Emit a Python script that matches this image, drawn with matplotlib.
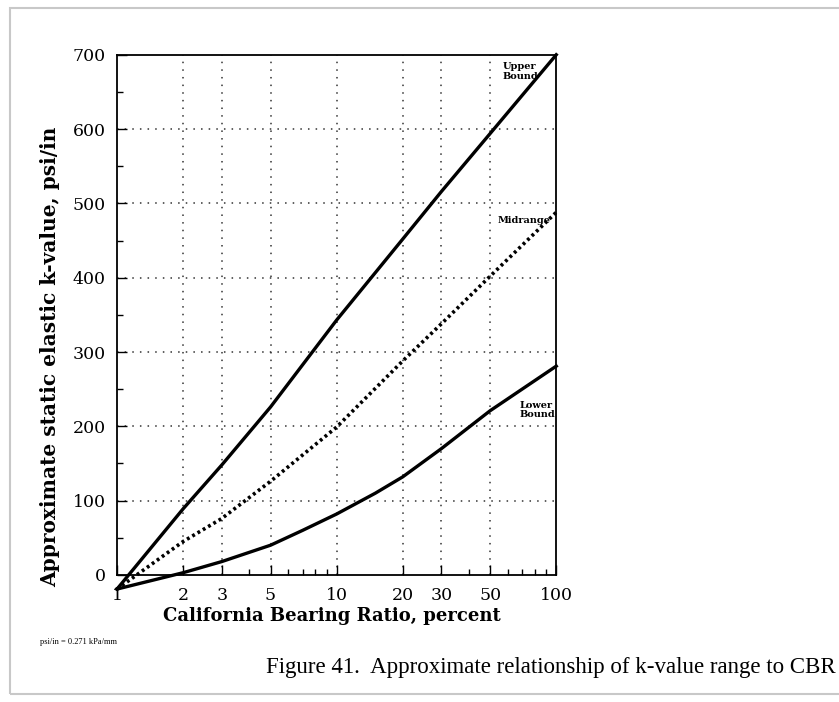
import numpy as np
from matplotlib import pyplot as plt
from matplotlib.patches import Rectangle

# CBR (percent) and k-value (psi/in)
cbr_upper = [1, 2, 3, 5, 10, 20, 30, 50, 100]
k_upper = [-19, 89, 148, 226, 343, 452, 516, 594, 700]

cbr_mid = [1, 2, 3, 5, 10, 20, 30, 50, 100]
k_mid = [-19, 45, 76, 126, 199, 288, 338, 402, 488]

cbr_lower = [1, 2, 3, 5, 7, 10, 15, 20, 30, 50, 100]
k_lower = [-19, 3, 18, 40, 60, 82, 110, 132, 170, 221, 281]

x_ticks = [1, 2, 3, 5, 10, 20, 30, 50, 100]
x_grid = [2, 3, 5, 10, 20, 30, 50]
y_ticks = [0, 100, 200, 300, 400, 500, 600, 700]
y_grid = [100, 200, 300, 400, 500, 600]

serif = 'DejaVu Serif'

fig = plt.figure(figsize=(8.39, 7.02), dpi=100)
fig.patches.append(Rectangle((0.012, 0.012), 1.2, 0.976, transform=fig.transFigure,
                             fill=False, edgecolor='#c8c8c8', linewidth=1.5))

ax = fig.add_axes([0.1395, 0.181, 0.5235, 0.741])
ax.set_xscale('log')
ax.set_xlim(1, 100)
ax.set_ylim(0, 700)

for gx in x_grid:
    ax.axvline(gx, color='#333333', lw=1.1, ls=(0, (1, 4)), zorder=1)
for gy in y_grid:
    ax.axhline(gy, color='#333333', lw=1.1, ls=(0, (1, 4)), zorder=1)

ax.plot(cbr_upper, k_upper, color='black', lw=2.4, clip_on=False, zorder=3)
ax.plot(cbr_mid, k_mid, color='black', lw=2.6, ls=(0, (0.8, 0.9)), clip_on=False, zorder=3)
ax.plot(cbr_lower, k_lower, color='black', lw=2.4, clip_on=False, zorder=3)

ax.text(57, 690, 'Upper\nBound', fontsize=7, fontweight='bold', family=serif,
        va='top', ha='left', linespacing=1.1)
ax.text(54, 477, 'Midrange', fontsize=7, fontweight='bold', family=serif,
        va='center', ha='left')
ax.text(68, 222, 'Lower\nBound', fontsize=7, fontweight='bold', family=serif,
        va='center', ha='left', linespacing=1.1)

ax.set_xticks(x_ticks)
ax.set_xticklabels([str(v) for v in x_ticks])
ax.set_yticks(y_ticks)
ax.set_yticks(np.arange(50, 700, 100), minor=True)
ax.tick_params(which='major', direction='in', length=7, width=1, pad=9,
               labelsize=12.5, colors='black')
ax.tick_params(which='minor', direction='in', length=4, width=1)
ax.tick_params(axis='y', pad=8)
for lab in ax.get_xticklabels() + ax.get_yticklabels():
    lab.set_family(serif)

for sp in ax.spines.values():
    sp.set_linewidth(1.3)
    sp.set_color('black')

ax.set_xlabel('California Bearing Ratio, percent', fontsize=13, fontweight='bold',
              family=serif)
ax.xaxis.set_label_coords(0.488, -0.062)
ax.set_ylabel('Approximate static elastic k-value, psi/in', fontsize=14.5,
              fontweight='bold', family=serif)
ax.yaxis.set_label_coords(-0.13, 0.42)

fig.text(0.048, 0.085, 'psi/in = 0.271 kPa/mm', fontsize=6, family='Liberation Serif',
         va='center', ha='left')
fig.text(0.996, 0.049, 'Figure 41.  Approximate relationship of k-value range to CBR',
         fontsize=16.5, family='Liberation Serif', va='center', ha='right')

fig.savefig('out.png', dpi=100)
